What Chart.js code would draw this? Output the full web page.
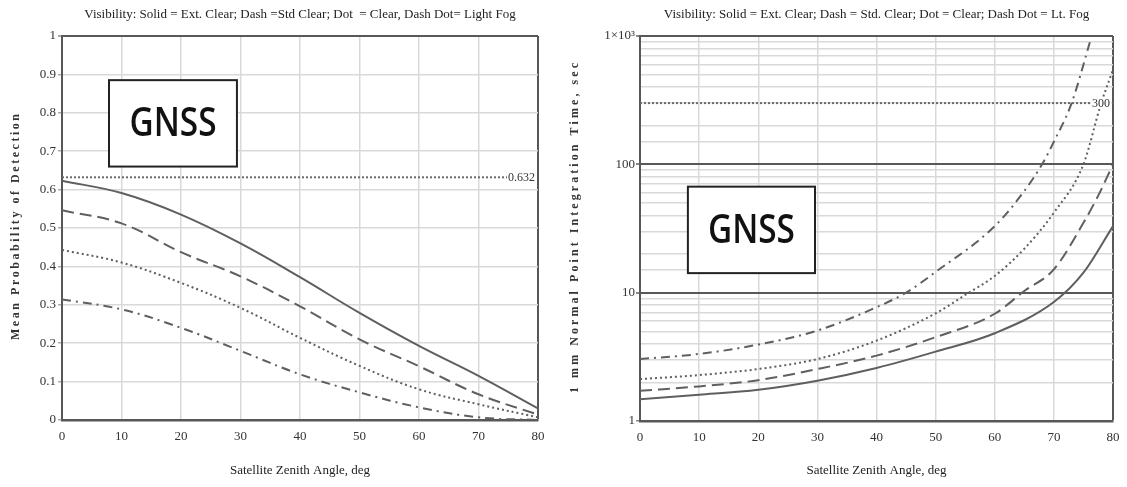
<!DOCTYPE html>
<html>
<head>
<meta charset="utf-8">
<script src="https://cdn.jsdelivr.net/npm/chart.js@4/dist/chart.umd.min.js"></script>
<style>
  html, body { margin: 0; padding: 0; background: #fff; }
  .panel { position: absolute; top: 0; height: 487px; }
  #left { left: 0; width: 563px; }
  #right { left: 563px; width: 564px; }
</style>
</head>
<body>
<div class="panel" id="left"><canvas id="probChart"></canvas></div>
<div class="panel" id="right"><canvas id="timeChart"></canvas></div>
<script>
// Left panel: mean probability of detection vs zenith angle
const angles = [0, 10, 20, 30, 40, 50, 60, 70, 80];
const probExtClear = [0.623, 0.591, 0.535, 0.46, 0.372, 0.279, 0.193, 0.115, 0.03];
const probStdClear = [0.546, 0.512, 0.437, 0.374, 0.296, 0.21, 0.14, 0.067, 0.014];
const probClear = [0.443, 0.41, 0.357, 0.292, 0.214, 0.141, 0.08, 0.041, 0.007];
const probLightFog = [0.314, 0.288, 0.24, 0.18, 0.119, 0.072, 0.033, 0.007, 0];
const probThreshold = 0.632;

// Right panel: 1 mm normal point integration time (sec), log axis
const timeAnglesExt = [0, 10, 20, 30, 40, 50, 60, 70, 75, 80];
const timeExtClear = [1.48, 1.6, 1.75, 2.06, 2.59, 3.47, 4.83, 8.45, 14.3, 33];
const timeAnglesStd = [0, 10, 20, 30, 40, 50, 60, 65, 70, 75, 77.5, 80];
const timeStdClear = [1.72, 1.86, 2.08, 2.54, 3.23, 4.5, 6.85, 10.3, 15.2, 35, 57, 100];
const timeAnglesClear = [0, 10, 20, 30, 40, 50, 55, 60, 65, 70, 75, 78, 80];
const timeClear = [2.12, 2.28, 2.54, 3.04, 4.23, 6.9, 9.6, 13.5, 22, 42, 100, 300, 545];
const timeAnglesFog = [0, 10, 20, 30, 40, 45, 50, 60, 65, 68, 70, 73, 76.2];
const timeLightFog = [3.04, 3.33, 3.94, 5.07, 7.7, 10, 14.5, 33, 62, 100, 150, 300, 930];
const timeThreshold = 300;
const timeDecadeLabels = { 1: '1', 10: '10', 100: '100', 1000: '1\u00d710\u00b3' };

const serif = '"Liberation Serif", "Times New Roman", serif';
const lineInk = '#5f5f5f';
const frameInk = '#585858';
const gridLight = '#d9d9d9';

function series(xs, ys, dash, monotone) {
    return {
        data: xs.map((x, i) => ({ x: x, y: ys[i] })),
        borderColor: lineInk,
        borderWidth: 2,
        borderDash: dash,
        pointRadius: 0,
        tension: 0.4,
        cubicInterpolationMode: monotone ? 'monotone' : 'default',
        fill: false
    };
}

function refLine(value) {
    return {
        data: [{ x: 0, y: value }, { x: 80, y: value }],
        borderColor: '#6a6a6a',
        borderWidth: 2,
        borderDash: [2, 2],
        pointRadius: 0,
        fill: false
    };
}

// draws text with letters spread over a given length
function spacedText(ctx, text, span) {
    const chars = [...text];
    const widths = chars.map(c => ctx.measureText(c).width);
    const total = widths.reduce((a, b) => a + b, 0);
    const gap = (span - total) / (chars.length - 1);
    let x = -span / 2;
    ctx.textAlign = 'left';
    chars.forEach((c, i) => {
        ctx.fillText(c, x, 0);
        x += widths[i] + gap;
    });
}

const notes = {
    id: 'notes',
    afterDatasetsDraw(chart, args, opts) {
        const ctx = chart.ctx;
        const xs = chart.scales.x, ys = chart.scales.y;

        // threshold label at the right end of the dotted line
        const ly = ys.getPixelForValue(opts.refValue);
        ctx.save();
        ctx.font = '12px ' + serif;
        const tw = ctx.measureText(opts.refText).width;
        const rx = chart.chartArea.right - 3;
        ctx.fillStyle = '#fff';
        ctx.fillRect(rx - tw - 1, ly - 6, tw + 2, 12);
        ctx.fillStyle = '#333';
        ctx.textAlign = 'right';
        ctx.textBaseline = 'middle';
        ctx.fillText(opts.refText, rx, ly + 1);

        // GNSS box
        const b = opts.box;
        const x0 = xs.getPixelForValue(b.x0), x1 = xs.getPixelForValue(b.x1);
        const y0 = ys.getPixelForValue(b.y0), y1 = ys.getPixelForValue(b.y1);
        ctx.fillStyle = '#fff';
        ctx.fillRect(x0, y0, x1 - x0, y1 - y0);
        ctx.strokeStyle = '#222';
        ctx.lineWidth = 2;
        ctx.strokeRect(x0, y0, x1 - x0, y1 - y0);
        ctx.font = '600 40px "Open Sans", sans-serif';
        const gw = ctx.measureText('GNSS').width;
        const sx = 87 / gw;
        ctx.translate((x0 + x1) / 2, y0 + (y1 - y0) * 0.65);
        ctx.scale(sx, 1);
        ctx.fillStyle = '#111';
        ctx.textAlign = 'center';
        ctx.textBaseline = 'alphabetic';
        ctx.fillText('GNSS', 0, 0);
        ctx.restore();
    },
    afterDraw(chart, args, opts) {
        const ctx = chart.ctx;
        const area = chart.chartArea;
        ctx.save();
        ctx.fillStyle = '#222';
        ctx.font = '13px ' + serif;
        ctx.textAlign = 'center';
        ctx.textBaseline = 'middle';
        ctx.fillText(opts.title, (area.left + area.right) / 2, 15);

        ctx.fillStyle = '#333';
        ctx.font = 'bold 12px ' + serif;
        ctx.textBaseline = 'middle';
        ctx.translate(opts.yTitleX, opts.yTitleY);
        ctx.rotate(-Math.PI / 2);
        spacedText(ctx, opts.yTitle, opts.yTitleSpan);
        ctx.restore();
    }
};

function xScale(bottomHeight) {
    return {
        type: 'linear',
        min: 0,
        max: 80,
        ticks: { stepSize: 10, color: '#333', font: { family: serif, size: 13 }, padding: 4, maxRotation: 0 },
        grid: {
            color: c => (c.tick && c.tick.value === 80) ? frameInk : gridLight,
            lineWidth: c => (c.tick && c.tick.value === 80) ? 2 : 1.5,
            tickLength: 5,
            tickColor: 'rgba(0,0,0,0)'
        },
        border: { color: frameInk, width: 2.5 },
        title: {
            display: true,
            text: 'Satellite Zenith Angle, deg',
            color: '#222',
            font: { family: serif, size: 13 },
            padding: { top: 0, bottom: 9 }
        },
        afterFit: s => { s.height = bottomHeight; }
    };
}

new Chart(document.getElementById('probChart'), {
    type: 'line',
    data: {
        datasets: [
            series(angles, probExtClear, [], false),
            series(angles, probStdClear, [12, 6], false),
            series(angles, probClear, [2, 3], false),
            series(angles, probLightFog, [9, 5, 2, 5], false),
            refLine(probThreshold)
        ]
    },
    options: {
        responsive: true,
        maintainAspectRatio: false,
        animation: false,
        devicePixelRatio: 1,
        layout: { padding: { top: 36, right: 25, left: 0, bottom: 0 } },
        plugins: {
            legend: { display: false },
            tooltip: { enabled: false },
            notes: {
                title: 'Visibility: Solid = Ext. Clear; Dash =Std Clear; Dot  = Clear, Dash Dot= Light Fog',
                yTitle: 'Mean Probability of Detection',
                yTitleX: 16, yTitleY: 227, yTitleSpan: 226,
                refValue: probThreshold, refText: '0.632',
                box: { x0: 7.9, x1: 29.4, y0: 0.885, y1: 0.66 }
            }
        },
        scales: {
            x: xScale(67),
            y: {
                min: 0,
                max: 1,
                ticks: {
                    stepSize: 0.1,
                    color: '#333',
                    font: { family: serif, size: 13 },
                    padding: 2,
                    callback: v => String(Math.round(v * 10) / 10)
                },
                grid: {
                    color: c => (c.tick && c.tick.value === 1) ? frameInk : gridLight,
                    lineWidth: c => (c.tick && c.tick.value === 1) ? 2 : 1.5,
                    tickLength: 4,
                    tickColor: '#aaa'
                },
                border: { color: frameInk, width: 2 },
                afterFit: s => { s.width = 62; }
            }
        }
    },
    plugins: [notes]
});

new Chart(document.getElementById('timeChart'), {
    type: 'line',
    data: {
        datasets: [
            series(timeAnglesExt, timeExtClear, [], true),
            series(timeAnglesStd, timeStdClear, [12, 6], true),
            series(timeAnglesClear, timeClear, [2, 3], true),
            series(timeAnglesFog, timeLightFog, [9, 5, 2, 5], true),
            refLine(timeThreshold)
        ]
    },
    options: {
        responsive: true,
        maintainAspectRatio: false,
        animation: false,
        devicePixelRatio: 1,
        layout: { padding: { top: 36, right: 14, left: 0, bottom: 0 } },
        plugins: {
            legend: { display: false },
            tooltip: { enabled: false },
            notes: {
                title: 'Visibility: Solid = Ext. Clear; Dash = Std. Clear; Dot = Clear; Dash Dot = Lt. Fog',
                yTitle: '1 mm Normal Point Integration Time, sec',
                yTitleX: 12, yTitleY: 228, yTitleSpan: 330,
                refValue: timeThreshold, refText: '300',
                box: { x0: 8.1, x1: 29.6, y0: 67, y1: 14.2 }
            }
        },
        scales: {
            x: xScale(66),
            y: {
                type: 'logarithmic',
                min: 1,
                max: 1000,
                ticks: {
                    autoSkip: false,
                    color: '#333',
                    font: { family: serif, size: 13 },
                    padding: 1,
                    callback: v => timeDecadeLabels[v] || ''
                },
                grid: {
                    color: c => {
                        const v = c.tick && c.tick.value;
                        return (v === 10 || v === 100 || v === 1000) ? frameInk : gridLight;
                    },
                    lineWidth: c => {
                        const v = c.tick && c.tick.value;
                        return (v === 10 || v === 100 || v === 1000) ? 2 : 1.5;
                    },
                    tickLength: 4,
                    tickColor: c => timeDecadeLabels[c.tick && c.tick.value] ? '#888' : 'rgba(0,0,0,0)'
                },
                border: { color: frameInk, width: 2 },
                afterFit: s => { s.width = 77; }
            }
        }
    },
    plugins: [notes]
});
</script>
</body>
</html>
